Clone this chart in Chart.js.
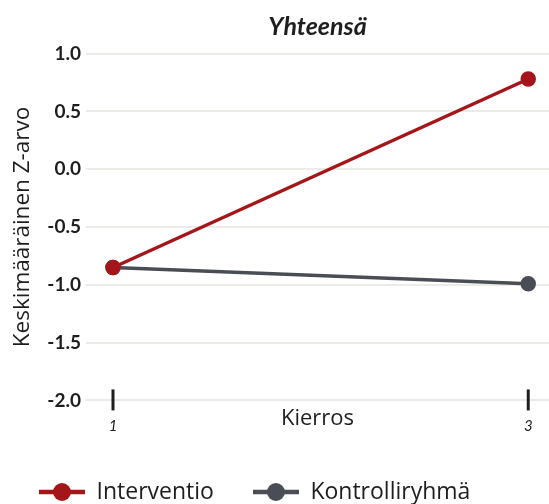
<!DOCTYPE html>
<html>
<head>
<meta charset="utf-8">
<script src="https://cdn.jsdelivr.net/npm/chart.js@4.4.1/dist/chart.umd.min.js"></script>
<style>
  html, body { margin: 0; padding: 0; background: #fff; }
  #wrap { width: 549px; height: 504px; }
</style>
</head>
<body>
<div id="wrap"><canvas id="chart" width="549" height="504"></canvas></div>
<script>
/* ---- data ---- */
const rounds = [1, 3];
const interventio = [-0.85, 0.78];
const kontrolli = [-0.85, -0.99];
const yTicks = [-2.0, -1.5, -1.0, -0.5, 0.0, 0.5, 1.0];

const RED = "#a4161a";
const GREY = "#4a4e54";
const INK = "#1e1e1e";

// legend marker: line with a dot in the middle
function legendMarker(color) {
    const c = document.createElement("canvas");
    c.width = 46;
    c.height = 20;
    const g = c.getContext("2d");
    g.strokeStyle = color;
    g.lineWidth = 4.5;
    g.beginPath();
    g.moveTo(0, 10);
    g.lineTo(46, 10);
    g.stroke();
    g.fillStyle = color;
    g.beginPath();
    g.arc(23, 10, 9, 0, Math.PI * 2);
    g.fill();
    return c;
}

// small vertical marks on the x axis at each round
const roundMarks = {
    id: "roundMarks",
    afterDraw(chart) {
        const { ctx, scales } = chart;
        const y0 = scales.y.getPixelForValue(-2);
        ctx.save();
        ctx.strokeStyle = INK;
        ctx.lineWidth = 3;
        rounds.forEach(r => {
            const x = scales.x.getPixelForValue(r);
            ctx.beginPath();
            ctx.moveTo(x, y0 - 11);
            ctx.lineTo(x, y0 + 10);
            ctx.stroke();
        });
        ctx.restore();
    }
};

const toPoints = vals => rounds.map((r, i) => ({ x: r, y: vals[i] }));

new Chart(document.getElementById("chart"), {
    type: "line",
    data: {
        datasets: [
            {
                label: "Interventio",
                data: toPoints(interventio),
                borderColor: RED,
                backgroundColor: RED,
                borderWidth: 3.5,
                pointRadius: 6,
                pointHoverRadius: 6,
                pointStyle: "circle",
                _marker: legendMarker(RED)
            },
            {
                label: "Kontrolliryhmä",
                data: toPoints(kontrolli),
                borderColor: GREY,
                backgroundColor: GREY,
                borderWidth: 3.5,
                pointRadius: 6,
                pointHoverRadius: 6,
                pointStyle: "circle",
                _marker: legendMarker(GREY)
            }
        ]
    },
    options: {
        responsive: false,
        animation: false,
        layout: { autoPadding: false, padding: { top: 0, left: 0, right: 0, bottom: -9.5 } },
        plugins: {
            title: {
                display: true,
                text: "Yhteensä",
                fullSize: false,
                color: INK,
                font: { family: "Lato", size: 25, weight: "bold", style: "italic" },
                padding: { top: 12, bottom: 0 }
            },
            legend: {
                position: "bottom",
                align: "start",
                labels: {
                    color: INK,
                    font: { family: "Open Sans", size: 23 },
                    padding: 39,
                    usePointStyle: true,
                    pointStyleWidth: 46,
                    generateLabels(chart) {
                        return chart.data.datasets.map((ds, i) => ({
                            text: ds.label,
                            pointStyle: ds._marker,
                            fillStyle: ds.borderColor,
                            strokeStyle: ds.borderColor,
                            lineWidth: 0,
                            fontColor: INK,
                            datasetIndex: i,
                            hidden: false
                        }));
                    }
                }
            },
            tooltip: { enabled: false }
        },
        scales: {
            x: {
                type: "linear",
                min: 0.87,
                max: 3.1,
                afterBuildTicks: s => { s.ticks = rounds.map(v => ({ value: v })); },
                afterFit: s => { s.height = 29.5; },
                grid: { display: false, drawTicks: false },
                border: { display: false },
                ticks: {
                    padding: 5,
                    color: INK,
                    font: { family: "Lato", size: 15, style: "italic" },
                    callback: v => String(v)
                },
                title: {
                    display: true,
                    text: "Kierros",
                    color: INK,
                    font: { family: "Open Sans", size: 22 },
                    padding: { top: 0, bottom: 9.8 }
                }
            },
            y: {
                min: -2.1,
                max: 1.1,
                afterBuildTicks: s => { s.ticks = yTicks.map(v => ({ value: v })); },
                afterFit: s => { s.width = 86; },
                grid: { color: "#ecebe8", lineWidth: 2, drawTicks: false },
                border: { display: false },
                ticks: {
                    padding: 5,
                    color: INK,
                    font: { family: "Lato", size: 19, weight: "bold" },
                    callback: v => Number(v).toFixed(1)
                },
                title: {
                    display: true,
                    text: "Keskimääräinen Z-arvo",
                    color: INK,
                    font: { family: "Open Sans", size: 22.5 },
                    padding: { top: 9, bottom: 0 }
                }
            }
        }
    },
    plugins: [roundMarks]
});
</script>
</body>
</html>
